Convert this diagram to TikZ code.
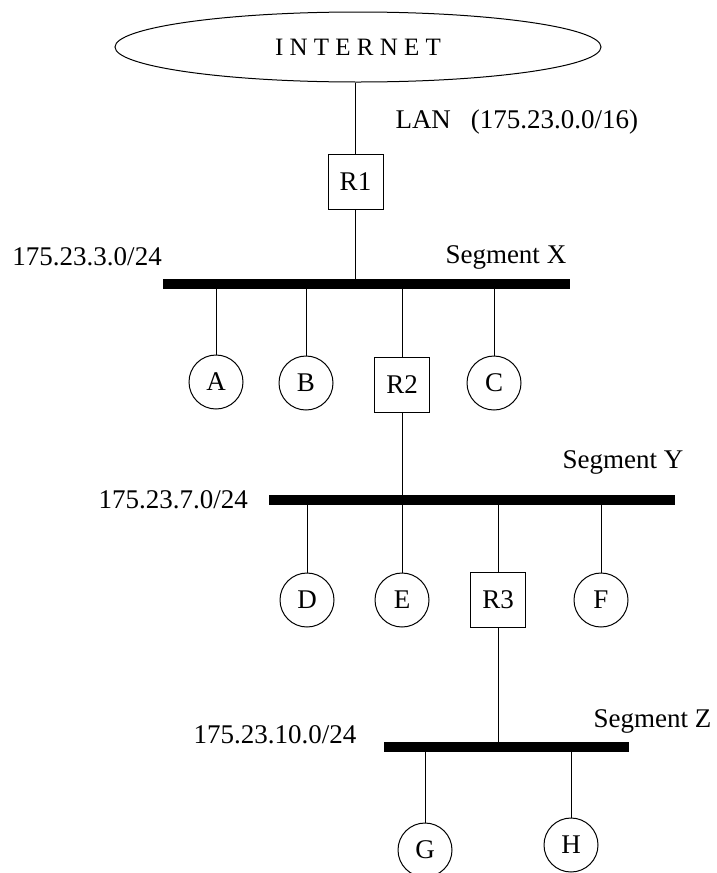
\documentclass[tikz,border=0pt]{standalone}
\usepackage{fontspec}
\setmainfont{Liberation Serif}
\usetikzlibrary{shapes.geometric}
\begin{document}
\begin{tikzpicture}[x=1pt, y=-1pt, line width=1pt,
  every node/.style={font=\fontsize{27}{32}\selectfont},
  host/.style={circle, draw, minimum size=54pt, inner sep=0pt},
  router/.style={rectangle, draw, minimum size=55pt, inner sep=0pt},
  bus/.style={rectangle, fill=black, minimum height=10pt, inner sep=0pt},
  lbl/.style={anchor=base west, inner sep=0pt}]
\useasboundingbox (0,0) rectangle (717,873);

\node[ellipse, draw, minimum width=486pt, minimum height=70pt, inner sep=0pt,
  font=\fontsize{25}{30}\selectfont] (net) at (358,47) {I N T E R N E T};
\node[lbl] (lan) at (395,128) {LAN\hspace{20pt}(175.23.0.0/16)};
\node[router] (R1) at (355.5,181.5) {R1};

\node[bus, minimum width=407pt] (X) at (366.5,284) {};
\node[lbl] (netX) at (12,265) {175.23.3.0/24};
\node[lbl] (segX) at (445,263) {Segment X};
\node[host] (A) at (216,382) {A};
\node[host] (B) at (306,383) {B};
\node[router] (R2) at (402,385) {R2};
\node[host] (C) at (494,383) {C};

\node[bus, minimum width=406pt] (Y) at (472,500) {};
\node[lbl] (netY) at (98,508) {175.23.7.0/24};
\node[lbl] (segY) at (562,468) {Segment Y};
\node[host] (D) at (307,600) {D};
\node[host] (E) at (402,600) {E};
\node[router] (R3) at (498,599.5) {R3};
\node[host] (F) at (601,600) {F};

\node[bus, minimum width=245pt] (Z) at (506.5,747) {};
\node[lbl] (netZ) at (193,743) {175.23.10.0/24};
\node[lbl] (segZ) at (593,727) {Segment Z};
\node[host] (G) at (425,850) {G};
\node[host] (H) at (571,845) {H};

\draw (R1) -- (R1 |- net.south);
\draw (R1) -- (R1 |- X);
\foreach \n in {A,B,R2,C}
  \draw (\n) -- (\n |- X);
\draw (R2) -- (R2 |- Y);
\foreach \n in {D,E,R3,F}
  \draw (\n) -- (\n |- Y);
\draw (R3) -- (R3 |- Z);
\foreach \n in {G,H}
  \draw (\n) -- (\n |- Z);
\end{tikzpicture}
\end{document}
